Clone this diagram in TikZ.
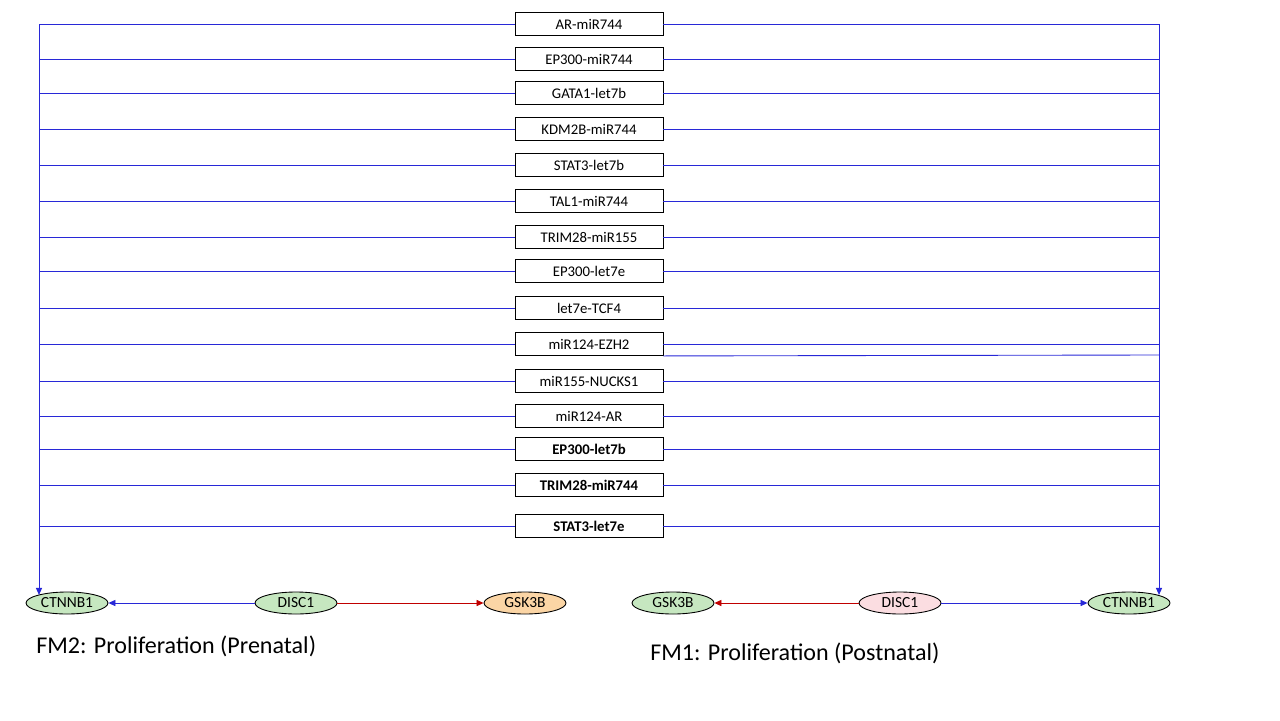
\documentclass[tikz,border=0pt]{standalone}
\usepackage{fontspec}
\setmainfont{Carlito}
\usetikzlibrary{arrows.meta, shapes.geometric, positioning}
\definecolor{lnk}{RGB}{40,40,215}
\definecolor{inh}{RGB}{192,0,0}
\definecolor{gnfill}{RGB}{198,231,192}
\definecolor{orfill}{RGB}{251,213,165}
\definecolor{pkfill}{RGB}{251,221,225}

\begin{document}
\begin{tikzpicture}[
  x=0.02cm, y=-0.02cm,
  pair/.style={draw, line width=0.5pt, minimum width=2.96cm, minimum height=0.46cm,
               inner sep=0pt, font=\fontsize{8.4}{10}\selectfont},
  gene/.style={draw, ellipse, line width=0.5pt, minimum width=1.64cm, minimum height=0.44cm,
               inner sep=0pt, font=\fontsize{8.8}{10}\selectfont},
  link/.style={draw=lnk, line width=0.5pt},
  act/.style={link, -{Triangle[length=4pt, width=3.5pt]}},
  rep/.style={draw=inh, line width=0.5pt, -{Triangle[length=4pt, width=3.5pt]}},
  title/.style={anchor=west, inner sep=0pt, font=\fontsize{13.7}{16}\selectfont},
]
\useasboundingbox (0,0) rectangle (1280,720);

% regulatory pairs
\foreach \txt/\y [count=\i] in {AR-miR744/24, EP300-miR744/59, GATA1-let7b/93,
    KDM2B-miR744/129, STAT3-let7b/165, TAL1-miR744/201, TRIM28-miR155/237,
    EP300-let7e/271, let7e-TCF4/308, miR124-EZH2/344, miR155-NUCKS1/381,
    miR124-AR/416, \textbf{EP300-let7b}/449, \textbf{TRIM28-miR744}/485,
    \textbf{STAT3-let7e}/526} {
  \node[pair] (p\i) at (589,\y) {\txt};
  \draw[link] (p\i.west) -- (39,\y);
  \draw[link] (p\i.east) -- (1159,\y);
}

% FM2 (prenatal)
\node[gene, fill=gnfill] (lctn)  at (67,603)  {CTNNB1};
\node[gene, fill=gnfill] (ldisc) at (296,603) {DISC1};
\node[gene, fill=orfill] (lgsk)  at (525,603) {GSK3B};
\draw[act] (ldisc) -- (lctn);
\draw[rep] (ldisc) -- (lgsk);

% FM1 (postnatal)
\node[gene, fill=gnfill] (rgsk)  at (673,603)  {GSK3B};
\node[gene, fill=pkfill] (rdisc) at (900,603)  {DISC1};
\node[gene, fill=gnfill] (rctn)  at (1129,603) {CTNNB1};
\draw[rep] (rdisc) -- (rgsk);
\draw[act] (rdisc) -- (rctn);

% collecting lines
\coordinate (ltop) at (39,24);
\coordinate (rtop) at (1159,24);
\coordinate (rmid) at (1159,355);
\draw[act] (ltop) -- (ltop |- lctn.north west);
\draw[link] (rtop) -- (rmid);
\draw[link] (p10.south east) -- (rmid);
\draw[act] (rmid) -- (rmid |- rctn.north east);

\node[title] (fm2) at (36,646) {FM2: Proliferation (Prenatal)};
\node[title] (fm1) at (650,653) {FM1: Proliferation (Postnatal)};
\end{tikzpicture}
\end{document}
